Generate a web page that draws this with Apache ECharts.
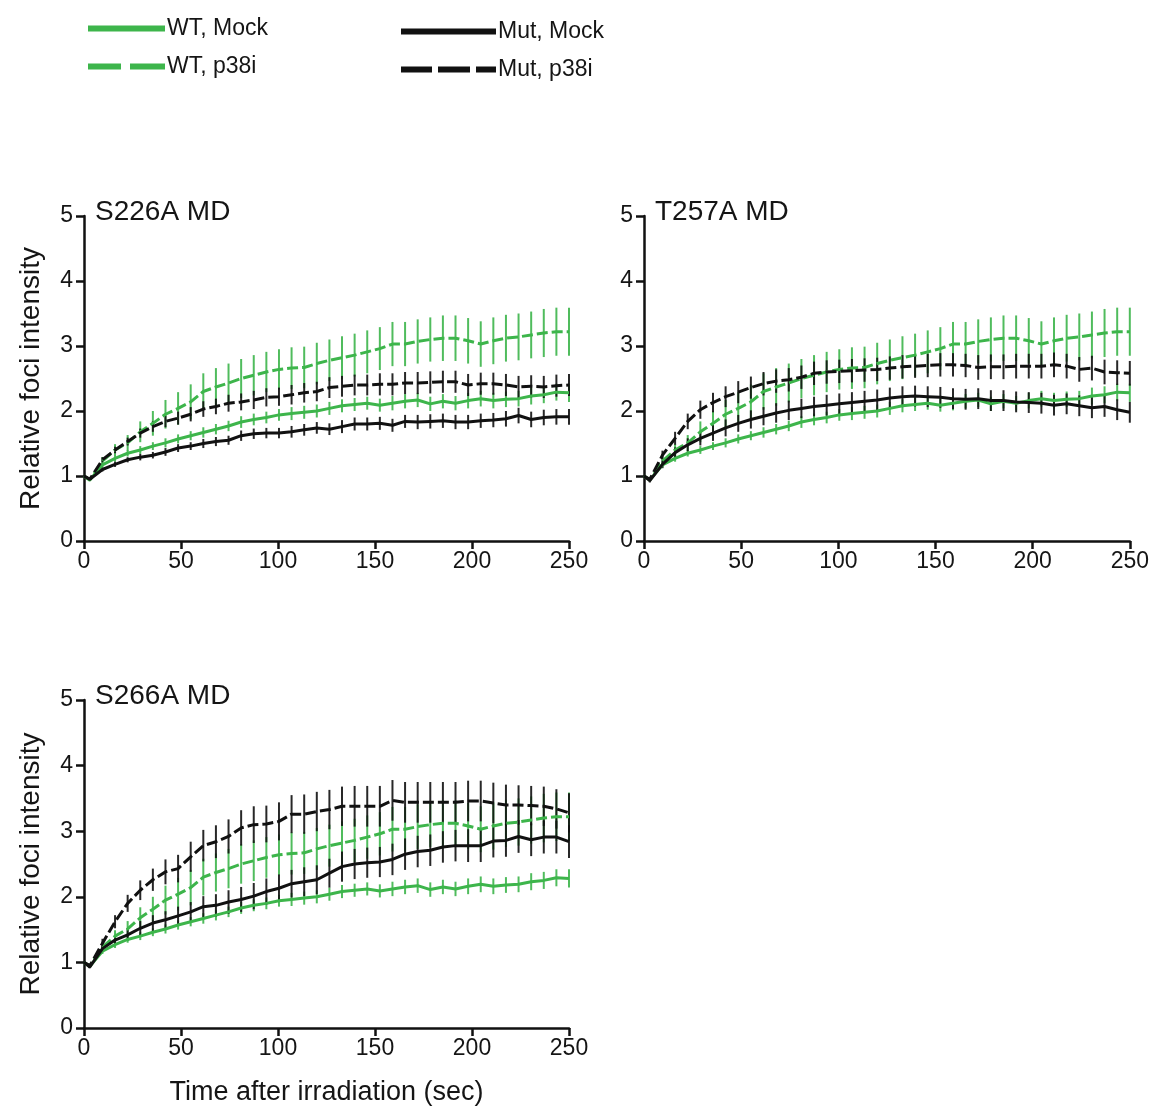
<!DOCTYPE html>
<html>
<head>
<meta charset="utf-8">
<script src="https://cdn.jsdelivr.net/npm/echarts@6/dist/echarts.min.js"></script>
<style>
html,body{margin:0;padding:0;background:#ffffff;}
#chart{width:1152px;height:1113px;}
</style>
</head>
<body>
<div id="chart"></div>
<script>
// ---------------- DATA ----------------
const timeSec = [0, 3, 9.5, 16, 22.5, 29, 35.5, 42, 48.5, 55, 61.5, 68, 74.5, 81, 87.5, 94, 100.5, 107, 113.5, 120,
  126.5, 133, 139.5, 146, 152.5, 159, 165.5, 172, 178.5, 185, 191.5, 198, 204.5, 211, 217.5, 224, 230.5, 237, 243.5, 250];

const xTickValues = [0, 50, 100, 150, 200, 250];
const yTickValues = [0, 1, 2, 3, 4, 5];

const panelTitles = ['S226A MD', 'T257A MD', 'S266A MD'];
const seriesNames = ['WT, Mock', 'WT, p38i', 'Mut, Mock', 'Mut, p38i'];

// WT controls (shared by all three panels)
const wtMock = [1.00, 0.94, 1.17, 1.27, 1.35, 1.40, 1.46, 1.51, 1.57, 1.62, 1.67, 1.72, 1.77, 1.83, 1.87, 1.90, 1.94, 1.96, 1.98, 2.00,
  2.04, 2.08, 2.10, 2.12, 2.09, 2.12, 2.15, 2.17, 2.11, 2.15, 2.12, 2.16, 2.19, 2.16, 2.18, 2.19, 2.23, 2.25, 2.29, 2.28];
const wtMockErr = [0, 0.02, 0.04, 0.05, 0.05, 0.06, 0.06, 0.07, 0.07, 0.07, 0.08, 0.08, 0.08, 0.09, 0.09, 0.09, 0.09, 0.10, 0.10, 0.10,
  0.10, 0.10, 0.10, 0.10, 0.10, 0.11, 0.11, 0.11, 0.11, 0.11, 0.11, 0.12, 0.12, 0.12, 0.12, 0.12, 0.13, 0.13, 0.13, 0.14];

const wtP38i = [1.00, 0.94, 1.23, 1.40, 1.51, 1.68, 1.81, 1.95, 2.04, 2.14, 2.30, 2.37, 2.43, 2.50, 2.55, 2.60, 2.64, 2.66, 2.67, 2.73,
  2.78, 2.82, 2.86, 2.91, 2.96, 3.03, 3.03, 3.07, 3.10, 3.12, 3.12, 3.08, 3.03, 3.08, 3.12, 3.14, 3.17, 3.20, 3.22, 3.22];
const wtP38iErr = [0, 0.02, 0.06, 0.09, 0.12, 0.16, 0.19, 0.22, 0.25, 0.27, 0.28, 0.29, 0.30, 0.30, 0.31, 0.31, 0.31, 0.32, 0.32, 0.32,
  0.32, 0.33, 0.33, 0.33, 0.33, 0.34, 0.34, 0.34, 0.34, 0.35, 0.35, 0.35, 0.35, 0.36, 0.36, 0.36, 0.36, 0.37, 0.37, 0.37];

// S226A MD mutants
const s226MutMock = [1.00, 0.95, 1.10, 1.18, 1.25, 1.29, 1.32, 1.37, 1.43, 1.46, 1.50, 1.53, 1.55, 1.62, 1.65, 1.66, 1.66, 1.68, 1.71, 1.74,
  1.72, 1.76, 1.80, 1.80, 1.81, 1.78, 1.84, 1.83, 1.84, 1.85, 1.83, 1.83, 1.85, 1.86, 1.88, 1.93, 1.87, 1.90, 1.91, 1.91];
const s226MutMockErr = [0, 0.02, 0.03, 0.04, 0.04, 0.05, 0.05, 0.06, 0.06, 0.06, 0.07, 0.07, 0.07, 0.08, 0.08, 0.08, 0.08, 0.09, 0.09, 0.09,
  0.09, 0.10, 0.10, 0.10, 0.10, 0.10, 0.10, 0.11, 0.11, 0.11, 0.11, 0.11, 0.11, 0.11, 0.12, 0.12, 0.12, 0.12, 0.12, 0.12];
const s226MutP38i = [1.00, 0.95, 1.25, 1.40, 1.53, 1.66, 1.76, 1.84, 1.89, 1.95, 2.03, 2.07, 2.12, 2.14, 2.17, 2.21, 2.22, 2.25, 2.28, 2.30,
  2.36, 2.38, 2.40, 2.40, 2.41, 2.41, 2.43, 2.43, 2.44, 2.45, 2.45, 2.40, 2.42, 2.42, 2.40, 2.37, 2.38, 2.37, 2.39, 2.40];
const s226MutP38iErr = [0, 0.02, 0.04, 0.05, 0.06, 0.07, 0.08, 0.09, 0.10, 0.11, 0.12, 0.12, 0.13, 0.13, 0.14, 0.14, 0.14, 0.15, 0.15, 0.15,
  0.16, 0.16, 0.16, 0.16, 0.17, 0.17, 0.17, 0.17, 0.17, 0.17, 0.17, 0.17, 0.17, 0.17, 0.17, 0.17, 0.17, 0.17, 0.17, 0.17];

// T257A MD mutants
const t257MutMock = [1.00, 0.93, 1.18, 1.36, 1.48, 1.58, 1.66, 1.74, 1.81, 1.87, 1.92, 1.97, 2.01, 2.04, 2.07, 2.09, 2.11, 2.13, 2.15, 2.17,
  2.20, 2.22, 2.23, 2.22, 2.21, 2.19, 2.18, 2.19, 2.16, 2.16, 2.14, 2.13, 2.12, 2.09, 2.11, 2.08, 2.05, 2.07, 2.02, 1.98];
const t257MutMockErr = [0, 0.03, 0.06, 0.08, 0.10, 0.11, 0.12, 0.13, 0.13, 0.14, 0.14, 0.15, 0.15, 0.15, 0.15, 0.16, 0.16, 0.16, 0.16, 0.16,
  0.16, 0.16, 0.16, 0.16, 0.16, 0.16, 0.16, 0.16, 0.16, 0.16, 0.16, 0.16, 0.16, 0.16, 0.16, 0.16, 0.16, 0.16, 0.16, 0.16];
const t257MutP38i = [1.00, 0.95, 1.32, 1.58, 1.84, 2.02, 2.13, 2.22, 2.29, 2.36, 2.42, 2.46, 2.48, 2.52, 2.58, 2.60, 2.61, 2.62, 2.63, 2.64,
  2.66, 2.68, 2.69, 2.70, 2.71, 2.71, 2.70, 2.67, 2.68, 2.68, 2.69, 2.69, 2.69, 2.71, 2.69, 2.64, 2.66, 2.60, 2.59, 2.58];
const t257MutP38iErr = [0, 0.03, 0.07, 0.10, 0.12, 0.14, 0.15, 0.16, 0.17, 0.17, 0.18, 0.18, 0.18, 0.18, 0.18, 0.18, 0.18, 0.18, 0.18, 0.18,
  0.18, 0.18, 0.18, 0.18, 0.18, 0.18, 0.18, 0.19, 0.19, 0.19, 0.19, 0.19, 0.19, 0.19, 0.19, 0.19, 0.19, 0.19, 0.19, 0.19];

// S266A MD mutants
const s266MutMock = [1.00, 0.93, 1.21, 1.34, 1.42, 1.52, 1.60, 1.65, 1.71, 1.77, 1.85, 1.87, 1.92, 1.96, 2.01, 2.08, 2.13, 2.20, 2.23, 2.26,
  2.36, 2.46, 2.50, 2.52, 2.53, 2.57, 2.65, 2.69, 2.71, 2.76, 2.78, 2.78, 2.78, 2.85, 2.86, 2.92, 2.87, 2.91, 2.91, 2.84];
const s266MutMockErr = [0, 0.02, 0.05, 0.07, 0.09, 0.11, 0.12, 0.13, 0.14, 0.15, 0.16, 0.17, 0.18, 0.19, 0.20, 0.20, 0.21, 0.21, 0.22, 0.22,
  0.22, 0.23, 0.23, 0.23, 0.23, 0.24, 0.24, 0.24, 0.24, 0.24, 0.24, 0.25, 0.25, 0.25, 0.25, 0.25, 0.25, 0.25, 0.25, 0.25];
const s266MutP38i = [1.00, 0.95, 1.29, 1.62, 1.90, 2.10, 2.26, 2.38, 2.43, 2.61, 2.78, 2.84, 2.92, 3.05, 3.10, 3.11, 3.15, 3.26, 3.26, 3.30,
  3.33, 3.38, 3.38, 3.38, 3.38, 3.47, 3.44, 3.44, 3.44, 3.44, 3.44, 3.46, 3.46, 3.43, 3.40, 3.40, 3.39, 3.38, 3.34, 3.28];
const s266MutP38iErr = [0, 0.03, 0.07, 0.10, 0.13, 0.15, 0.17, 0.19, 0.21, 0.23, 0.24, 0.25, 0.26, 0.27, 0.28, 0.28, 0.29, 0.29, 0.30, 0.30,
  0.30, 0.30, 0.31, 0.31, 0.31, 0.31, 0.31, 0.31, 0.31, 0.31, 0.31, 0.31, 0.31, 0.31, 0.31, 0.30, 0.30, 0.30, 0.30, 0.30];

// ---------------- STYLE ----------------
const FONT = '"Liberation Sans", Arial, Helvetica, sans-serif';
const GREEN = '#3db54b';
const BLACK = '#111111';
const TEXT = '#151515';
const seriesStyles = [
  { color: GREEN, dash: 'solid' },
  { color: GREEN, dash: [11, 4] },
  { color: BLACK, dash: 'solid' },
  { color: BLACK, dash: [11, 4] }
];

const panels = [
  { title: panelTitles[0], groups: [[wtMock, wtMockErr], [wtP38i, wtP38iErr], [s226MutMock, s226MutMockErr], [s226MutP38i, s226MutP38iErr]] },
  { title: panelTitles[1], groups: [[wtMock, wtMockErr], [wtP38i, wtP38iErr], [t257MutMock, t257MutMockErr], [t257MutP38i, t257MutP38iErr]] },
  { title: panelTitles[2], groups: [[wtMock, wtMockErr], [wtP38i, wtP38iErr], [s266MutMock, s266MutMockErr], [s266MutP38i, s266MutP38iErr]] }
];

const gridBoxes = [
  { left: 84, top: 216, width: 485, height: 325 },
  { left: 644, top: 216, width: 487, height: 325 },
  { left: 84, top: 700, width: 485, height: 328 }
];

const axisLineStyle = { color: BLACK, width: 2.5 };
const tickLabel = { fontSize: 23, color: TEXT, fontFamily: FONT };

const grid = gridBoxes.map(g => Object.assign({ containLabel: false }, g));

const xAxis = gridBoxes.map((g, i) => ({
  type: 'value', gridIndex: i, min: xTickValues[0], max: xTickValues[xTickValues.length - 1], interval: 50,
  axisLine: { show: true, onZero: false, lineStyle: axisLineStyle },
  axisTick: { show: true, length: 8, lineStyle: axisLineStyle },
  axisLabel: Object.assign({ margin: 9, showMinLabel: true, showMaxLabel: true }, tickLabel),
  splitLine: { show: false },
  name: i === 2 ? 'Time after irradiation (sec)' : '',
  nameLocation: 'middle', nameGap: 51,
  nameTextStyle: { fontSize: 27, color: TEXT, fontFamily: FONT }
}));

const yAxis = gridBoxes.map((g, i) => ({
  type: 'value', gridIndex: i, min: yTickValues[0], max: yTickValues[yTickValues.length - 1], interval: 1,
  axisLine: { show: true, onZero: false, lineStyle: axisLineStyle },
  axisTick: { show: true, length: 8, lineStyle: axisLineStyle },
  axisLabel: Object.assign({ margin: 11 }, tickLabel),
  splitLine: { show: false },
  name: i === 1 ? '' : 'Relative foci intensity',
  nameLocation: 'middle', nameGap: 39, nameRotate: 90,
  nameTextStyle: { fontSize: 28, color: TEXT, fontFamily: FONT }
}));

const series = [];
panels.forEach((panel, p) => {
  panel.groups.forEach((grp, k) => {
    const vals = grp[0], errs = grp[1];
    const st = seriesStyles[k];
    series.push({
      type: 'custom', name: seriesNames[k], xAxisIndex: p, yAxisIndex: p, z: 2,
      data: timeSec.map((t, j) => [t, vals[j] - errs[j], vals[j] + errs[j]]),
      encode: { x: 0, y: [1, 2] },
      itemStyle: { color: st.color },
      renderItem: function (params, api) {
        const a = api.coord([api.value(0), api.value(1)]);
        const b = api.coord([api.value(0), api.value(2)]);
        return { type: 'line', shape: { x1: a[0], y1: a[1], x2: b[0], y2: b[1] },
                 style: { stroke: st.color, lineWidth: 2, opacity: 0.9 } };
      },
      silent: true
    });
    series.push({
      type: 'line', name: seriesNames[k], xAxisIndex: p, yAxisIndex: p, z: 3,
      data: timeSec.map((t, j) => [t, vals[j]]),
      showSymbol: false, symbol: 'none',
      itemStyle: { color: st.color },
      lineStyle: { color: st.color, width: 3, type: st.dash },
      silent: true
    });
  });
});

const title = panels.map((panel, p) => ({
  text: panel.title,
  left: gridBoxes[p].left + 11, top: gridBoxes[p].top - 18,
  padding: 0,
  textStyle: { fontSize: 28, fontWeight: 'normal', color: TEXT, fontFamily: FONT }
}));

const legendText = { fontSize: 23, color: TEXT, fontFamily: FONT, padding: [0, 0, 0, -3] };
const legend = [
  {
    left: 88, top: 17, orient: 'vertical', padding: 0, itemWidth: 77, itemHeight: 6, itemGap: 15, selectedMode: false,
    textStyle: legendText,
    data: [
      { name: seriesNames[0], icon: 'path://M0,0H77V6H0Z' },
      { name: seriesNames[1], icon: 'path://M0,0H33V6H0ZM42,0H77V6H42Z' }
    ]
  },
  {
    left: 401, top: 20, orient: 'vertical', padding: 0, itemWidth: 95, itemHeight: 6, itemGap: 15, selectedMode: false,
    textStyle: legendText,
    data: [
      { name: seriesNames[2], icon: 'path://M0,0H95V6H0Z' },
      { name: seriesNames[3], icon: 'path://M0,0H31V6H0ZM37,0H69V6H37ZM75,0H95V6H75Z' }
    ]
  }
];

const chart = echarts.init(document.getElementById('chart'), null, { renderer: 'canvas' });
chart.setOption({
  backgroundColor: '#ffffff',
  animation: false,
  title, legend, grid, xAxis, yAxis, series
});
</script>
</body>
</html>
